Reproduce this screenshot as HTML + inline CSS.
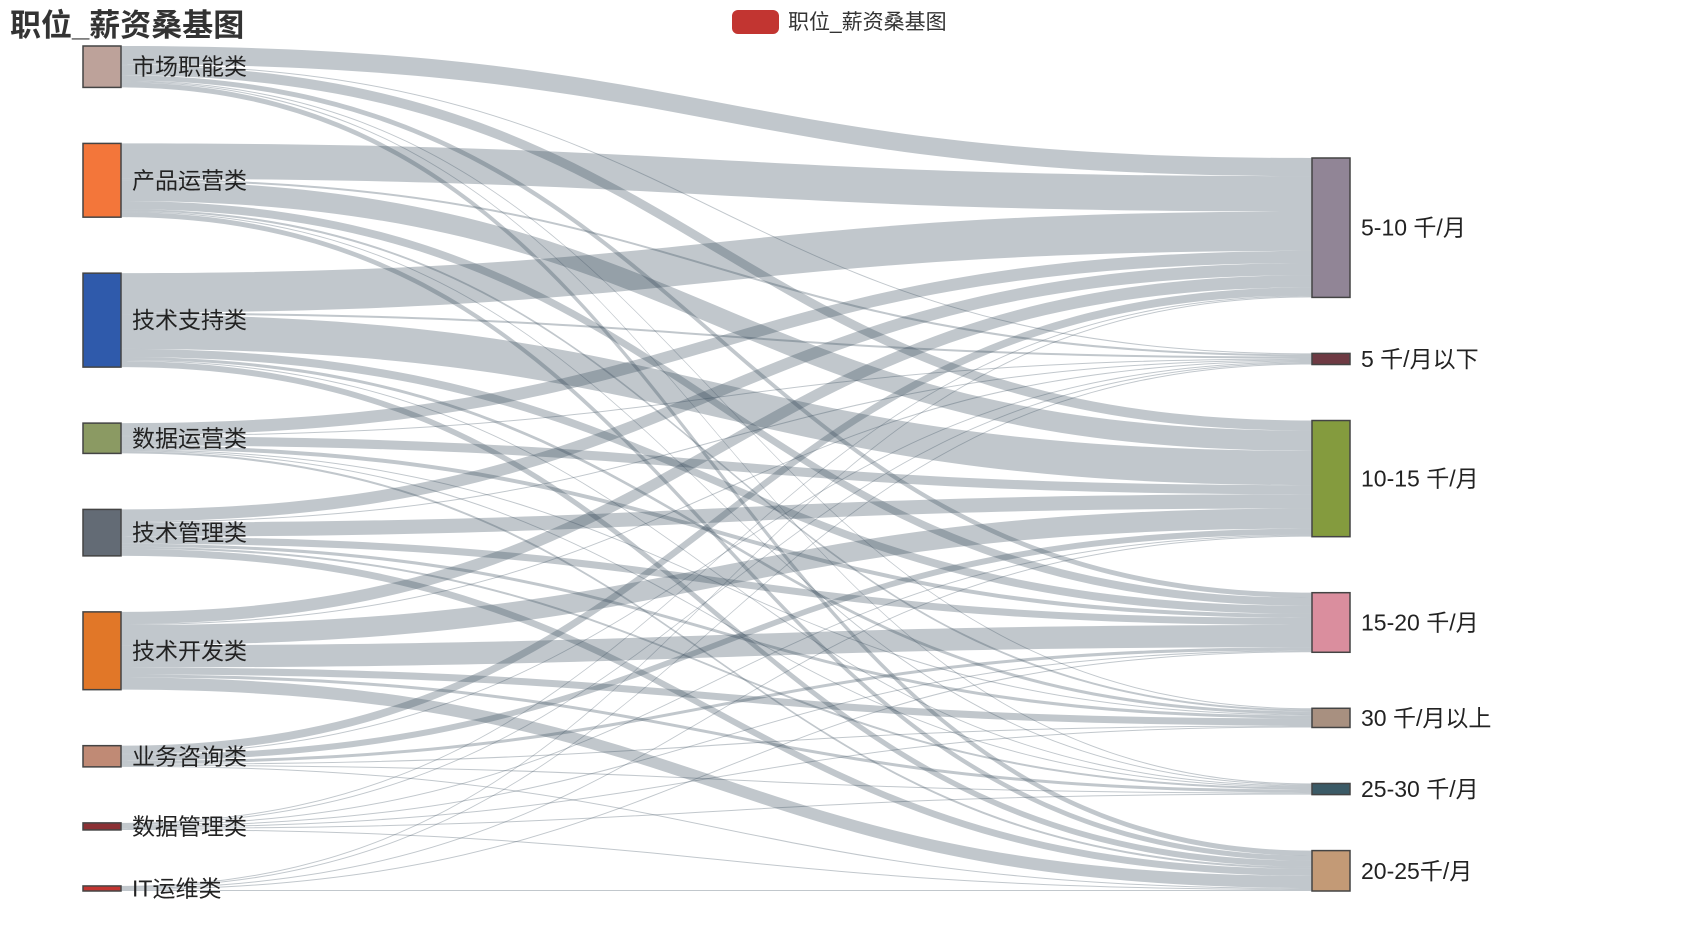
<!DOCTYPE html>
<html><head><meta charset="utf-8"><style>
body{margin:0;background:#fff;width:1687px;height:937px;overflow:hidden}
svg text{font-family:"Liberation Sans","Noto Sans CJK SC",sans-serif}
</style></head><body>
<svg id="chart" width="1687" height="937" viewBox="0 0 1687 937">
<text x="10" y="36" font-size="31" font-weight="bold" fill="#333">职位_薪资桑基图</text>
<g>
<rect x="732" y="10" width="47" height="24" rx="6" fill="#c23531"/>
<text x="788" y="29" font-size="21" fill="#333">职位_薪资桑基图</text>
</g>
<g id="links"></g>
<g id="nodes"></g>
</svg>
<script>
const sources = ["市场职能类","产品运营类","技术支持类","数据运营类","技术管理类","技术开发类","业务咨询类","数据管理类","IT运维类"];
const targets = ["5-10 千/月","5 千/月以下","10-15 千/月","15-20 千/月","30 千/月以上","25-30 千/月","20-25千/月"];
const flow0 = [18,1,10,5,1,1,5];
const flow1 = [35,2,20,8,2,1,5];
const flow2 = [39,2,34,8,3,1,6];
const flow3 = [12,1,9,4,1,1,2];
const flow4 = [12,1,14,7,3,2,7];
const flow5 = [12,1,20,22,7,3,12];
const flow6 = [8,1,6,3,1,1,1];
const flow7 = [1,1,1,1,1,1,1];
const flow8 = [1,1,1,1,0,0,1];
const flows = [flow0,flow1,flow2,flow3,flow4,flow5,flow6,flow7,flow8];
const srcColors = ["#bda29a","#f3763a","#2f5aab","#8b9a63","#636b75","#e17728","#c08a75","#8b3034","#c23531"];
const tgtColors = ["#918596","#6e3a43","#849b3e","#da8e9e","#a89080","#3b5a66","#c39a76"];

const NS="http://www.w3.org/2000/svg";
const top0=46,bottom=891,gap=56,lx=83,rx=1312,nw=38;
const srcVal=flows.map(r=>r.reduce((a,b)=>a+b,0));
const tgtVal=targets.map((_,j)=>flows.reduce((a,r)=>a+r[j],0));
const sumL=srcVal.reduce((a,b)=>a+b,0);
const k=(bottom-top0-(sources.length-1)*gap)/sumL;
const sy=[];let y=top0;
srcVal.forEach((v,i)=>{sy.push(y);y+=v*k+gap;});
const ty=new Array(targets.length);y=bottom;
for(let j=targets.length-1;j>=0;j--){y-=tgtVal[j]*k;ty[j]=y;y-=gap;}
const links=document.getElementById('links'),nodes=document.getElementById('nodes');
const tOff=ty.slice();
const x1=lx+nw,x2=rx,cx=(x1+x2)/2;
flows.forEach((row,i)=>{
  let so=sy[i];
  row.forEach((v,j)=>{
    if(!v)return;
    const h=v*k,a=so,b=tOff[j];
    const p=document.createElementNS(NS,'path');
    p.setAttribute('d',`M${x1},${a}C${cx},${a} ${cx},${b} ${x2},${b}L${x2},${b+h}C${cx},${b+h} ${cx},${a+h} ${x1},${a+h}Z`);
    p.setAttribute('fill','#314656');p.setAttribute('fill-opacity','0.3');
    
    
    links.appendChild(p);
    so+=h;tOff[j]+=h;
  });
});
function node(x,yy,h,col,label,lxp,name){
  const r=document.createElementNS(NS,'rect');
  r.setAttribute('x',x);r.setAttribute('y',yy);r.setAttribute('width',nw);r.setAttribute('height',Math.max(h,1));
  r.setAttribute('fill',col);r.setAttribute('stroke','#444');r.setAttribute('stroke-width','1.5');
  
  
  nodes.appendChild(r);
  const t=document.createElementNS(NS,'text');
  t.setAttribute('x',lxp);t.setAttribute('y',yy+h/2+8);t.setAttribute('font-size','23');t.setAttribute('fill','#222');
  t.textContent=label;
  
  
  nodes.appendChild(t);
}
sources.forEach((s,i)=>node(lx,sy[i],srcVal[i]*k,srcColors[i],s,132,'source-node-'+i));
targets.forEach((s,j)=>node(rx,ty[j],tgtVal[j]*k,tgtColors[j],s,1361,'target-node-'+j));
</script>
</body></html>
